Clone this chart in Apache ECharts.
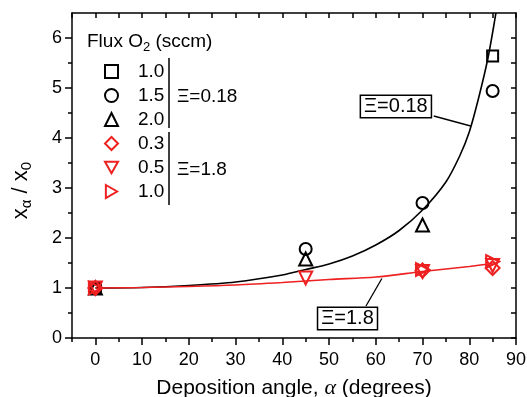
<!DOCTYPE html>
<html>
<head>
<meta charset="utf-8">
<script src="https://cdn.jsdelivr.net/npm/echarts@6/dist/echarts.min.js"></script>
<style>
  html, body { margin: 0; padding: 0; background: #fff; }
  #chart { width: 527px; height: 397px; }
</style>
</head>
<body>
<div id="chart"></div>
<script>
// fitted curves
var blackCurveX = [0, 10, 20, 30, 40, 45, 50, 55, 60, 65, 70, 75, 78, 80, 82, 84, 85.7];
var blackCurveY = [1.00, 1.01, 1.05, 1.12, 1.26, 1.37, 1.48, 1.64, 1.86, 2.15, 2.56, 3.12, 3.65, 4.12, 4.8, 5.6, 6.5];
var redCurveX = [0, 10, 20, 30, 40, 50, 60, 70, 80, 85];
var redCurveY = [1.00, 1.01, 1.03, 1.06, 1.11, 1.17, 1.22, 1.33, 1.43, 1.49];

// measured points, one list per O2 flux
var sq10X = [0, 85];          var sq10Y = [1.0, 5.64];
var ci15X = [0, 45, 70, 85];  var ci15Y = [1.0, 1.78, 2.70, 4.94];
var tr20X = [0, 45, 70];      var tr20Y = [1.0, 1.58, 2.26];
var di03X = [0, 70, 85];      var di03Y = [1.0, 1.35, 1.40];
var dn05X = [0, 45, 70, 85];  var dn05Y = [1.0, 1.20, 1.33, 1.45];
var rt10X = [0, 70, 85];      var rt10Y = [1.0, 1.37, 1.53];

var xMajor = [0, 10, 20, 30, 40, 50, 60, 70, 80, 90];
var xMinor = [-5, 0, 5, 10, 15, 20, 25, 30, 35, 40, 45, 50, 55, 60, 65, 70, 75, 80, 85, 90];
var yMajor = [0, 1, 2, 3, 4, 5, 6];
var yMinor = [0, 0.5, 1, 1.5, 2, 2.5, 3, 3.5, 4, 4.5, 5, 5.5, 6];

var BLACK = '#000';
var RED = '#ee2020';
var FONT = 'Liberation Sans, Arial, sans-serif';
var DOWN_TRI = 'path://M0,0L10,0L5,8.66Z';
var RIGHT_TRI = 'path://M0,0L8.66,5L0,10Z';

function pairs(xs, ys) {
  return xs.map(function (x, i) { return [x, ys[i]]; });
}

function scatter(name, xs, ys, color, symbol, size, rotate) {
  return {
    name: name,
    type: 'scatter',
    data: pairs(xs, ys),
    symbol: symbol,
    symbolSize: size,
    symbolRotate: rotate || 0,
    itemStyle: { color: 'rgba(255,255,255,0)', borderColor: color, borderWidth: 2, opacity: 1 },
    z: 5
  };
}

var chart = echarts.init(document.getElementById('chart'));

var baseX = { type: 'value', min: -5, max: 90, splitLine: { show: false } };
var baseY = { type: 'value', min: 0, max: 6.5, splitLine: { show: false } };

var option = {
  animation: false,
  textStyle: { fontFamily: FONT },
  grid: { left: 72, right: 11, top: 13, bottom: 59, outerBoundsMode: 'none' },
  title: {
    text: 'Flux O{s|2} (sccm)',
    left: 87, top: 30, padding: 0,
    textStyle: {
      fontFamily: FONT, fontSize: 19, fontWeight: 'normal', color: BLACK, lineHeight: 24,
      rich: { s: { fontSize: 13, lineHeight: 14, verticalAlign: 'bottom', fontFamily: FONT } }
    }
  },
  legend: {
    orient: 'vertical', left: 104, top: 62, padding: 0,
    itemWidth: 13, itemHeight: 13, itemGap: 5,
    selectedMode: false,
    data: [
      { name: '1.0' },
      { name: '1.5' },
      { name: '2.0' },
      { name: '0.3' },
      { name: '0.5', icon: DOWN_TRI },
      { name: '1.0 ', icon: RIGHT_TRI }
    ],
    textStyle: { fontFamily: FONT, fontSize: 19, color: BLACK, padding: [0, 0, 0, 15] }
  },
  xAxis: [
    Object.assign({}, baseX, {
      position: 'bottom',
      axisLine: { onZero: false, lineStyle: { color: BLACK, width: 1.5 } },
      axisTick: { customValues: xMinor, length: 4, lineStyle: { color: BLACK, width: 1.5 } },
      axisLabel: { customValues: xMajor, margin: 13, color: BLACK, fontSize: 18, fontFamily: FONT },
      name: 'Deposition angle, {a|α} (degrees)',
      nameLocation: 'middle', nameGap: 39,
      nameTextStyle: {
        color: BLACK, fontSize: 21, fontFamily: FONT,
        rich: { a: { fontStyle: 'italic', fontFamily: 'Liberation Serif, serif', fontSize: 22 } }
      }
    }),
    Object.assign({}, baseX, {
      position: 'bottom',
      axisLine: { show: false, onZero: false },
      axisTick: { customValues: xMajor, length: 7, lineStyle: { color: BLACK, width: 1.5 } },
      axisLabel: { show: false }
    }),
    Object.assign({}, baseX, {
      position: 'top',
      axisLine: { onZero: false, lineStyle: { color: BLACK, width: 1.5 } },
      axisTick: { customValues: xMinor, inside: true, length: 5, lineStyle: { color: BLACK, width: 1.5 } },
      axisLabel: { show: false }
    })
  ],
  yAxis: [
    Object.assign({}, baseY, {
      position: 'left',
      axisLine: { onZero: false, lineStyle: { color: BLACK, width: 1.5 } },
      axisTick: { customValues: yMinor, length: 4, lineStyle: { color: BLACK, width: 1.5 } },
      axisLabel: { customValues: yMajor, margin: 10, color: BLACK, fontSize: 18, fontFamily: FONT },
      name: '{m|x}{s|α}{m| / x}{s|0}',
      nameLocation: 'middle', nameGap: 38, nameRotate: 90,
      nameTextStyle: {
        color: BLACK, fontSize: 22, fontFamily: FONT, lineHeight: 26, padding: [0, 30, 0, 0],
        rich: {
          m: { fontSize: 22, lineHeight: 26, fontFamily: FONT },
          s: { fontSize: 15, lineHeight: 15, verticalAlign: 'bottom', fontFamily: FONT }
        }
      }
    }),
    Object.assign({}, baseY, {
      position: 'left',
      axisLine: { show: false, onZero: false },
      axisTick: { customValues: yMajor, length: 7, lineStyle: { color: BLACK, width: 1.5 } },
      axisLabel: { show: false }
    }),
    Object.assign({}, baseY, {
      position: 'right',
      axisLine: { onZero: false, lineStyle: { color: BLACK, width: 1.5 } },
      axisTick: { customValues: yMinor, inside: true, length: 5, lineStyle: { color: BLACK, width: 1.5 } },
      axisLabel: { show: false }
    })
  ],
  graphic: [
    { type: 'line', shape: { x1: 169, y1: 58, x2: 169, y2: 128 }, style: { stroke: BLACK, lineWidth: 1.5 } },
    { type: 'line', shape: { x1: 169, y1: 132, x2: 169, y2: 205 }, style: { stroke: BLACK, lineWidth: 1.5 } },
    { type: 'text', left: 177, top: 87, style: { text: 'Ξ=0.18', font: '19px ' + FONT, fill: BLACK } },
    { type: 'text', left: 177, top: 160, style: { text: 'Ξ=1.8', font: '19px ' + FONT, fill: BLACK } }
  ],
  series: [
    {
      name: 'fit 0.18', type: 'line', smooth: 0.3, showSymbol: false,
      data: pairs(blackCurveX, blackCurveY),
      lineStyle: { color: BLACK, width: 1.6 },
      itemStyle: { color: BLACK },
      markLine: {
        silent: true, symbol: ['none', 'arrow'], symbolSize: [0, 11],
        lineStyle: { color: BLACK, width: 1.3, type: 'solid' },
        label: { show: false },
        data: [[{ coord: [72.4, 4.44] }, { coord: [80.3, 4.24] }]]
      },
      markPoint: {
        silent: true, symbolSize: 0,
        label: {
          show: true, formatter: 'Ξ=0.18', color: BLACK, fontSize: 20, fontFamily: FONT,
          backgroundColor: '#fff', borderColor: BLACK, borderWidth: 1.5, padding: [1, 3, 0, 3]
        },
        data: [{ coord: [64.3, 4.63] }]
      }
    },
    {
      name: 'fit 1.8', type: 'line', smooth: 0.3, showSymbol: false,
      data: pairs(redCurveX, redCurveY),
      lineStyle: { color: RED, width: 1.6 },
      itemStyle: { color: RED },
      markLine: {
        silent: true, symbol: ['none', 'arrow'], symbolSize: [0, 11],
        lineStyle: { color: BLACK, width: 1.3, type: 'solid' },
        label: { show: false },
        data: [[{ coord: [57.9, 0.64] }, { coord: [61.3, 1.19] }]]
      },
      markPoint: {
        silent: true, symbolSize: 0,
        label: {
          show: true, formatter: 'Ξ=1.8', color: BLACK, fontSize: 20, fontFamily: FONT,
          backgroundColor: '#fff', borderColor: BLACK, borderWidth: 1.5, padding: [1, 3, 0, 3]
        },
        data: [{ coord: [53.95, 0.39] }]
      }
    },
    scatter('1.0', sq10X, sq10Y, BLACK, 'rect', 11),
    scatter('1.5', ci15X, ci15Y, BLACK, 'circle', 12),
    scatter('2.0', tr20X, tr20Y, BLACK, 'triangle', 13),
    scatter('0.3', di03X, di03Y, RED, 'diamond', 14),
    scatter('0.5', dn05X, dn05Y, RED, 'triangle', 13, 180),
    scatter('1.0 ', rt10X, rt10Y, RED, 'triangle', 13, -90)
  ]
};

chart.setOption(option);
</script>
</body>
</html>
